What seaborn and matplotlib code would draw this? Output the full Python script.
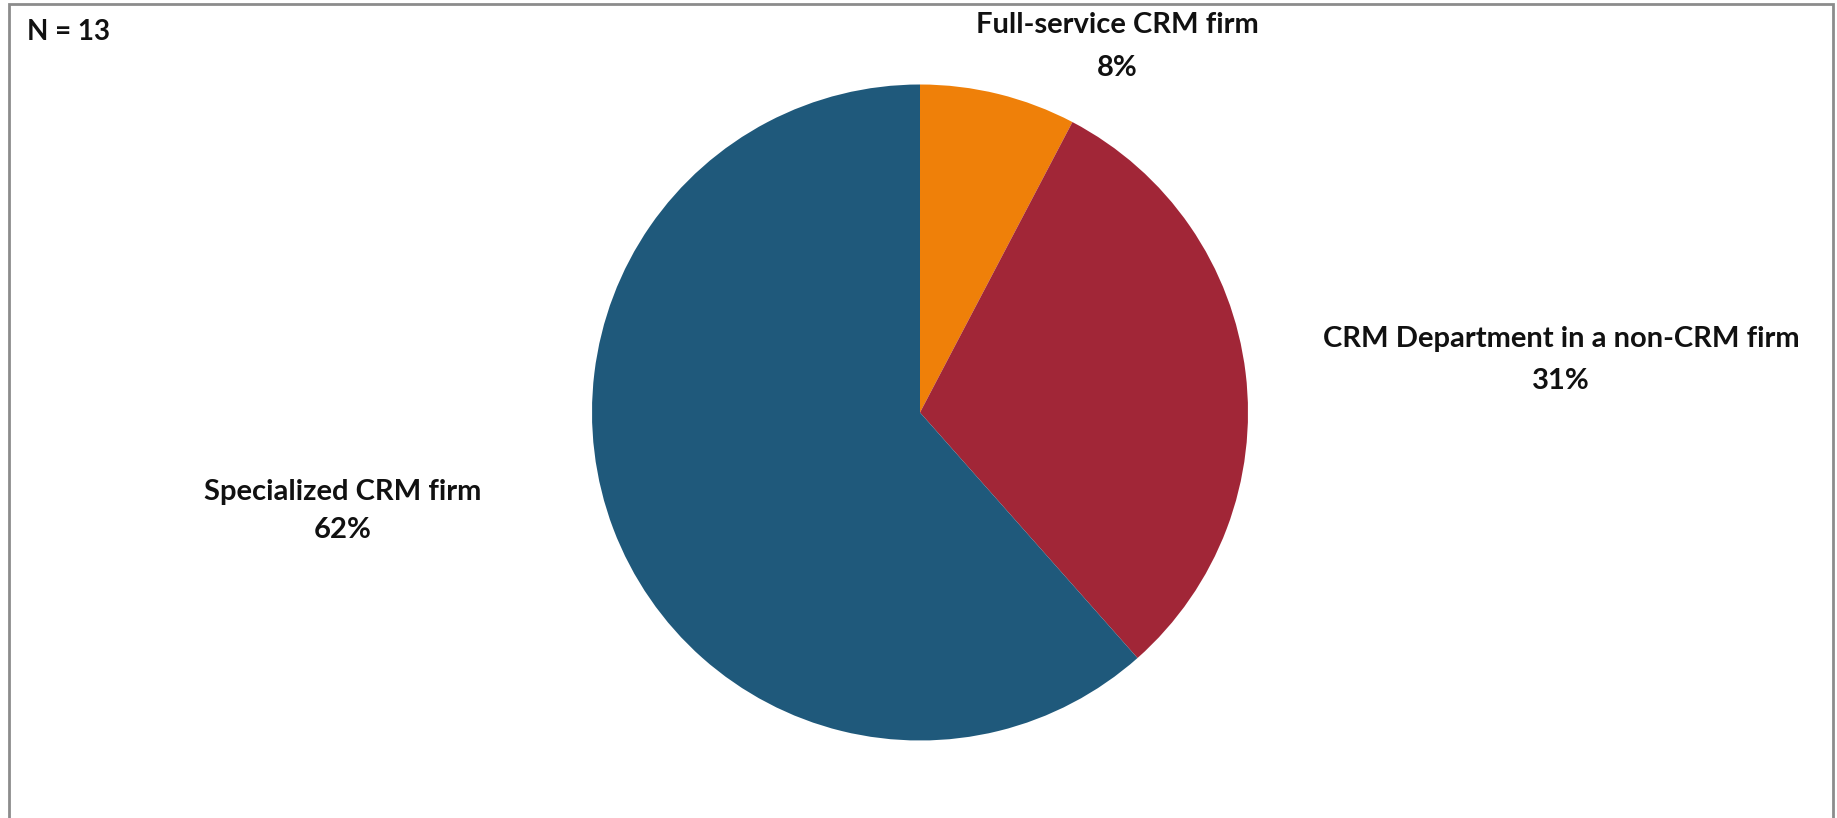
import matplotlib
matplotlib.use("Agg")
import matplotlib.pyplot as plt
import seaborn as sns
from matplotlib.patches import Rectangle

# data
categories = ["Full-service CRM firm", "CRM Department in a non-CRM firm", "Specialized CRM firm"]
counts = [1, 4, 8]
n_total = 13
colors = ["#EF8009", "#A12637", "#1F597B"]

sns.set_theme(style="white")
plt.rcParams['font.family'] = ['Lato', 'DejaVu Sans']

W, H = 1837, 818
fig = plt.figure(figsize=(W / 100, H / 100), dpi=100)
fig.patch.set_facecolor("white")

# pie placed by pixel centre/radius
cx, cy, r = 920, 412.5, 328
ax = fig.add_axes([(cx - r) / W, (H - cy - r) / H, 2 * r / W, 2 * r / H])
ax.pie(counts, colors=colors, startangle=90, counterclock=False,
       wedgeprops=dict(linewidth=0), radius=1)
ax.set_xlim(-1, 1)
ax.set_ylim(-1, 1)
ax.set_aspect("equal")
ax.axis("off")

fs = 21
pcts = [round(100 * c / n_total) for c in counts]
label_pos = [(1117, 25, 68), (1561, 339, 381), (343, 492, 530)]
for cat, p, (x, y1, y2) in zip(categories, pcts, label_pos):
    fig.text(x / W, 1 - y1 / H, cat, ha="center", va="center",
             fontsize=fs, fontweight="bold", color="#111111")
    fig.text(x / W, 1 - y2 / H, f"{p}%", ha="center", va="center",
             fontsize=fs, fontweight="bold", color="#111111")

fig.text(27 / W, 1 - 32 / H, f"N = {n_total}", ha="left", va="center",
         fontsize=20, fontweight="bold", color="#111111")

# chart border (bottom cut off)
fig.add_artist(Rectangle((9 / W, -0.05), (1833 - 9) / W, 1.05 - 4 / H,
                         transform=fig.transFigure, fill=False,
                         edgecolor="#8c8c8c", linewidth=2))

fig.savefig("out.png", dpi=100, facecolor="white")
